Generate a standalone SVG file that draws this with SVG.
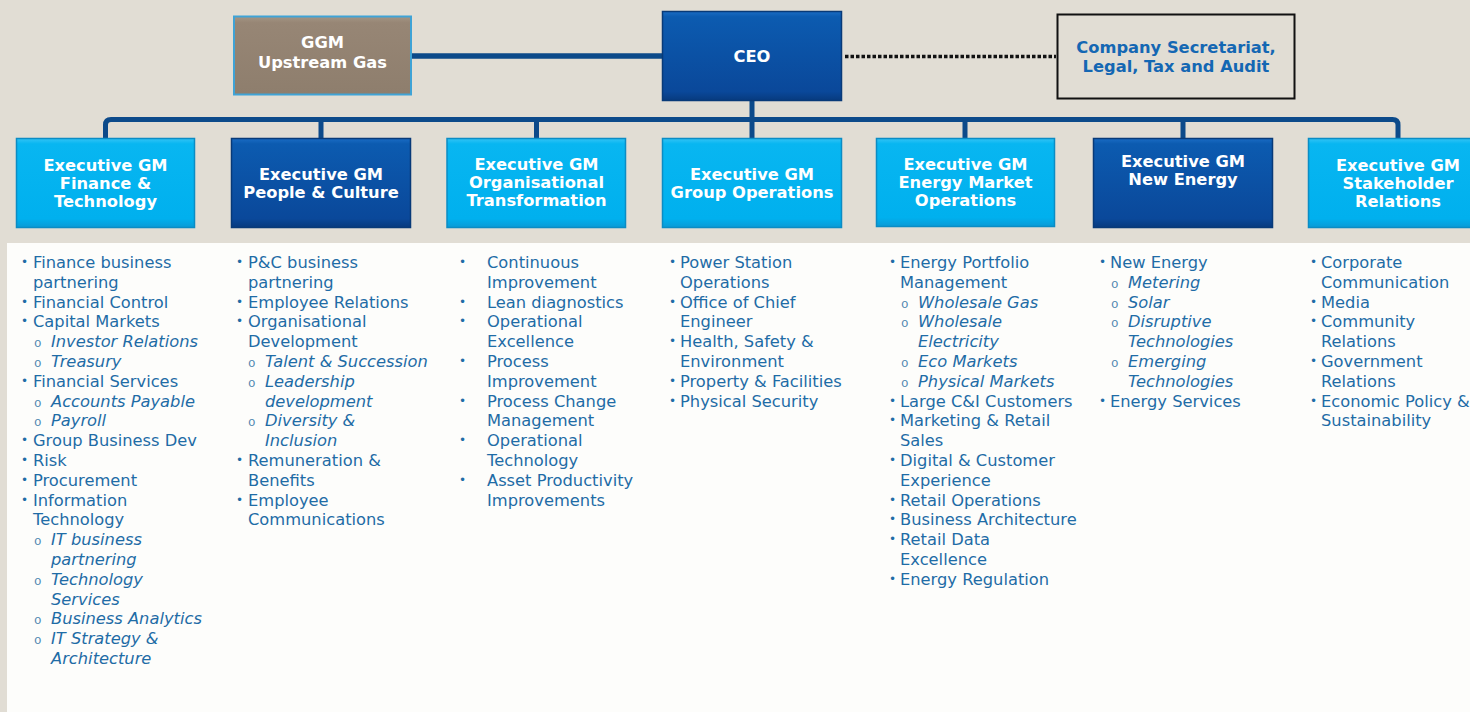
<svg xmlns="http://www.w3.org/2000/svg" width="1470" height="712" viewBox="0 0 1470 712">
<style>
.hd{font-family:"DejaVu Sans",Verdana,sans-serif;font-weight:bold;font-size:16.3px;fill:#ffffff;text-anchor:middle}
.cs{font-family:"DejaVu Sans",Verdana,sans-serif;font-weight:bold;font-size:16.3px;fill:#1467b3;text-anchor:middle}
.t{font-family:"DejaVu Sans",Verdana,sans-serif;font-size:16.3px;fill:#1f6ca6}
.i{font-style:italic}
.b{font-size:12px;baseline-shift:2px}
.o{font-family:"Liberation Mono","Courier New",monospace;font-size:12.5px;fill:#4f86b0}
.light{fill:url(#gLight);stroke:#0b8cc4;stroke-width:1.5}
.dark{fill:url(#gDark);stroke:#083a78;stroke-width:1.5}
.conn{fill:none;stroke:#0c4a8a;stroke-width:5}
</style>
<defs>
<linearGradient id="gLight" x1="0" y1="0" x2="0" y2="1">
<stop offset="0" stop-color="#33c4f5"/>
<stop offset="0.06" stop-color="#08b6f1"/>
<stop offset="0.9" stop-color="#00b0ee"/>
<stop offset="1" stop-color="#0a9ad6"/>
</linearGradient>
<linearGradient id="gDark" x1="0" y1="0" x2="0" y2="1">
<stop offset="0" stop-color="#1a6cc4"/>
<stop offset="0.06" stop-color="#0c5bb0"/>
<stop offset="0.9" stop-color="#0a489a"/>
<stop offset="1" stop-color="#073a7e"/>
</linearGradient>
<linearGradient id="gBrown" x1="0" y1="0" x2="0" y2="1">
<stop offset="0" stop-color="#a49585"/>
<stop offset="0.08" stop-color="#978675"/>
<stop offset="1" stop-color="#8e7e6d"/>
</linearGradient>
</defs>
<rect x="0" y="0" width="1470" height="712" fill="#e1ddd4"/>
<rect x="7" y="243" width="1463" height="469" fill="#fdfdfb"/>

<g id="connectors">
<line x1="411" y1="56" x2="662" y2="56" stroke="#0c4a8a" stroke-width="5.5"/>
<line x1="845" y1="56.5" x2="1056" y2="56.5" stroke="#111111" stroke-width="3.5" stroke-dasharray="3.5,2"/>
<path class="conn" d="M105.5,138 V125 Q105.5,119.5 111,119.5 H1392.5 Q1398,119.5 1398,125 V138"/>
<path class="conn" d="M752,101 V138 M321,119.5 V138 M536.5,119.5 V138 M965,119.5 V138 M1183,119.5 V138"/>
</g>

<g id="ggm">
<rect x="234" y="16.5" width="177" height="78" fill="url(#gBrown)" stroke="#3fa3d6" stroke-width="2"/>
<text class="hd" x="322.5" y="48">GGM</text>
<text class="hd" x="322.5" y="68">Upstream Gas</text>
</g>
<g id="ceo">
<rect x="662.5" y="11.5" width="179" height="89" class="dark"/>
<text class="hd" x="752" y="62">CEO</text>
</g>
<g id="company-secretariat">
<rect x="1057.5" y="14.5" width="237" height="84" fill="none" stroke="#111111" stroke-width="2"/>
<text class="cs" x="1176" y="53">Company Secretariat,</text>
<text class="cs" x="1176" y="72">Legal, Tax and Audit</text>
</g>

<g id="egm-finance">
<rect x="16.5" y="138.5" width="178" height="89" class="light"/>
<text class="hd" x="105.5" y="171">Executive GM</text>
<text class="hd" x="105.5" y="189">Finance &amp;</text>
<text class="hd" x="105.5" y="207">Technology</text>
</g>
<g id="egm-people">
<rect x="231.5" y="138.5" width="179" height="89" class="dark"/>
<text class="hd" x="321" y="180">Executive GM</text>
<text class="hd" x="321" y="198">People &amp; Culture</text>
</g>
<g id="egm-orgtrans">
<rect x="447" y="138.5" width="178.5" height="89" class="light"/>
<text class="hd" x="536.5" y="170">Executive GM</text>
<text class="hd" x="536.5" y="188">Organisational</text>
<text class="hd" x="536.5" y="206">Transformation</text>
</g>
<g id="egm-groupops">
<rect x="662.5" y="138.5" width="179" height="89" class="light"/>
<text class="hd" x="752" y="180">Executive GM</text>
<text class="hd" x="752" y="198">Group Operations</text>
</g>
<g id="egm-energymarket">
<rect x="876.5" y="138.5" width="178" height="88" class="light"/>
<text class="hd" x="965.5" y="170">Executive GM</text>
<text class="hd" x="965.5" y="188">Energy Market</text>
<text class="hd" x="965.5" y="206">Operations</text>
</g>
<g id="egm-newenergy">
<rect x="1093.5" y="138.5" width="179" height="89" class="dark"/>
<text class="hd" x="1183" y="167">Executive GM</text>
<text class="hd" x="1183" y="185">New Energy</text>
</g>
<g id="egm-stakeholder">
<rect x="1308.5" y="138.5" width="180" height="89" class="light"/>
<text class="hd" x="1398" y="171">Executive GM</text>
<text class="hd" x="1398" y="189">Stakeholder</text>
<text class="hd" x="1398" y="207">Relations</text>
</g>

<g id="list-finance" class="t">
<text y="268"><tspan class="b" x="21">•</tspan><tspan x="33">Finance business</tspan></text>
<text x="33" y="287.8">partnering</text>
<text y="307.6"><tspan class="b" x="21">•</tspan><tspan x="33">Financial Control</tspan></text>
<text y="327.4"><tspan class="b" x="21">•</tspan><tspan x="33">Capital Markets</tspan></text>
<text y="347.2"><tspan class="o" x="34">o</tspan><tspan class="i" x="51">Investor Relations</tspan></text>
<text y="367"><tspan class="o" x="34">o</tspan><tspan class="i" x="51">Treasury</tspan></text>
<text y="386.8"><tspan class="b" x="21">•</tspan><tspan x="33">Financial Services</tspan></text>
<text y="406.6"><tspan class="o" x="34">o</tspan><tspan class="i" x="51">Accounts Payable</tspan></text>
<text y="426.4"><tspan class="o" x="34">o</tspan><tspan class="i" x="51">Payroll</tspan></text>
<text y="446.2"><tspan class="b" x="21">•</tspan><tspan x="33">Group Business Dev</tspan></text>
<text y="466"><tspan class="b" x="21">•</tspan><tspan x="33">Risk</tspan></text>
<text y="485.8"><tspan class="b" x="21">•</tspan><tspan x="33">Procurement</tspan></text>
<text y="505.6"><tspan class="b" x="21">•</tspan><tspan x="33">Information</tspan></text>
<text x="33" y="525.4">Technology</text>
<text y="545.2"><tspan class="o" x="34">o</tspan><tspan class="i" x="51">IT business</tspan></text>
<text class="i" x="51" y="565">partnering</text>
<text y="584.8"><tspan class="o" x="34">o</tspan><tspan class="i" x="51">Technology</tspan></text>
<text class="i" x="51" y="604.6">Services</text>
<text y="624.4"><tspan class="o" x="34">o</tspan><tspan class="i" x="51">Business Analytics</tspan></text>
<text y="644.2"><tspan class="o" x="34">o</tspan><tspan class="i" x="51">IT Strategy &amp;</tspan></text>
<text class="i" x="51" y="664">Architecture</text>
</g>

<g id="list-people" class="t">
<text y="268"><tspan class="b" x="236">•</tspan><tspan x="248">P&amp;C business</tspan></text>
<text x="248" y="287.8">partnering</text>
<text y="307.6"><tspan class="b" x="236">•</tspan><tspan x="248">Employee Relations</tspan></text>
<text y="327.4"><tspan class="b" x="236">•</tspan><tspan x="248">Organisational</tspan></text>
<text x="248" y="347.2">Development</text>
<text y="367"><tspan class="o" x="248">o</tspan><tspan class="i" x="265">Talent &amp; Succession</tspan></text>
<text y="386.8"><tspan class="o" x="248">o</tspan><tspan class="i" x="265">Leadership</tspan></text>
<text class="i" x="265" y="406.6">development</text>
<text y="426.4"><tspan class="o" x="248">o</tspan><tspan class="i" x="265">Diversity &amp;</tspan></text>
<text class="i" x="265" y="446.2">Inclusion</text>
<text y="466"><tspan class="b" x="236">•</tspan><tspan x="248">Remuneration &amp;</tspan></text>
<text x="248" y="485.8">Benefits</text>
<text y="505.6"><tspan class="b" x="236">•</tspan><tspan x="248">Employee</tspan></text>
<text x="248" y="525.4">Communications</text>
</g>

<g id="list-orgtrans" class="t">
<text y="268"><tspan class="b" x="459">•</tspan><tspan x="487">Continuous</tspan></text>
<text x="487" y="287.8">Improvement</text>
<text y="307.6"><tspan class="b" x="459">•</tspan><tspan x="487">Lean diagnostics</tspan></text>
<text y="327.4"><tspan class="b" x="459">•</tspan><tspan x="487">Operational</tspan></text>
<text x="487" y="347.2">Excellence</text>
<text y="367"><tspan class="b" x="459">•</tspan><tspan x="487">Process</tspan></text>
<text x="487" y="386.8">Improvement</text>
<text y="406.6"><tspan class="b" x="459">•</tspan><tspan x="487">Process Change</tspan></text>
<text x="487" y="426.4">Management</text>
<text y="446.2"><tspan class="b" x="459">•</tspan><tspan x="487">Operational</tspan></text>
<text x="487" y="466">Technology</text>
<text y="485.8"><tspan class="b" x="459">•</tspan><tspan x="487">Asset Productivity</tspan></text>
<text x="487" y="505.6">Improvements</text>
</g>

<g id="list-groupops" class="t">
<text y="268"><tspan class="b" x="669">•</tspan><tspan x="680">Power Station</tspan></text>
<text x="680" y="287.8">Operations</text>
<text y="307.6"><tspan class="b" x="669">•</tspan><tspan x="680">Office of Chief</tspan></text>
<text x="680" y="327.4">Engineer</text>
<text y="347.2"><tspan class="b" x="669">•</tspan><tspan x="680">Health, Safety &amp;</tspan></text>
<text x="680" y="367">Environment</text>
<text y="386.8"><tspan class="b" x="669">•</tspan><tspan x="680">Property &amp; Facilities</tspan></text>
<text y="406.6"><tspan class="b" x="669">•</tspan><tspan x="680">Physical Security</tspan></text>
</g>

<g id="list-energymarket" class="t">
<text y="268"><tspan class="b" x="889">•</tspan><tspan x="900">Energy Portfolio</tspan></text>
<text x="900" y="287.8">Management</text>
<text y="307.6"><tspan class="o" x="901">o</tspan><tspan class="i" x="918">Wholesale Gas</tspan></text>
<text y="327.4"><tspan class="o" x="901">o</tspan><tspan class="i" x="918">Wholesale</tspan></text>
<text class="i" x="918" y="347.2">Electricity</text>
<text y="367"><tspan class="o" x="901">o</tspan><tspan class="i" x="918">Eco Markets</tspan></text>
<text y="386.8"><tspan class="o" x="901">o</tspan><tspan class="i" x="918">Physical Markets</tspan></text>
<text y="406.6"><tspan class="b" x="889">•</tspan><tspan x="900">Large C&amp;I Customers</tspan></text>
<text y="426.4"><tspan class="b" x="889">•</tspan><tspan x="900">Marketing &amp; Retail</tspan></text>
<text x="900" y="446.2">Sales</text>
<text y="466"><tspan class="b" x="889">•</tspan><tspan x="900">Digital &amp; Customer</tspan></text>
<text x="900" y="485.8">Experience</text>
<text y="505.6"><tspan class="b" x="889">•</tspan><tspan x="900">Retail Operations</tspan></text>
<text y="525.4"><tspan class="b" x="889">•</tspan><tspan x="900">Business Architecture</tspan></text>
<text y="545.2"><tspan class="b" x="889">•</tspan><tspan x="900">Retail Data</tspan></text>
<text x="900" y="565">Excellence</text>
<text y="584.8"><tspan class="b" x="889">•</tspan><tspan x="900">Energy Regulation</tspan></text>
</g>

<g id="list-newenergy" class="t">
<text y="268"><tspan class="b" x="1099">•</tspan><tspan x="1110">New Energy</tspan></text>
<text y="287.8"><tspan class="o" x="1111">o</tspan><tspan class="i" x="1128">Metering</tspan></text>
<text y="307.6"><tspan class="o" x="1111">o</tspan><tspan class="i" x="1128">Solar</tspan></text>
<text y="327.4"><tspan class="o" x="1111">o</tspan><tspan class="i" x="1128">Disruptive</tspan></text>
<text class="i" x="1128" y="347.2">Technologies</text>
<text y="367"><tspan class="o" x="1111">o</tspan><tspan class="i" x="1128">Emerging</tspan></text>
<text class="i" x="1128" y="386.8">Technologies</text>
<text y="406.6"><tspan class="b" x="1099">•</tspan><tspan x="1110">Energy Services</tspan></text>
</g>

<g id="list-stakeholder" class="t">
<text y="268"><tspan class="b" x="1310">•</tspan><tspan x="1321">Corporate</tspan></text>
<text x="1321" y="287.8">Communication</text>
<text y="307.6"><tspan class="b" x="1310">•</tspan><tspan x="1321">Media</tspan></text>
<text y="327.4"><tspan class="b" x="1310">•</tspan><tspan x="1321">Community</tspan></text>
<text x="1321" y="347.2">Relations</text>
<text y="367"><tspan class="b" x="1310">•</tspan><tspan x="1321">Government</tspan></text>
<text x="1321" y="386.8">Relations</text>
<text y="406.6"><tspan class="b" x="1310">•</tspan><tspan x="1321">Economic Policy &amp;</tspan></text>
<text x="1321" y="426.4">Sustainability</text>
</g>
</svg>
